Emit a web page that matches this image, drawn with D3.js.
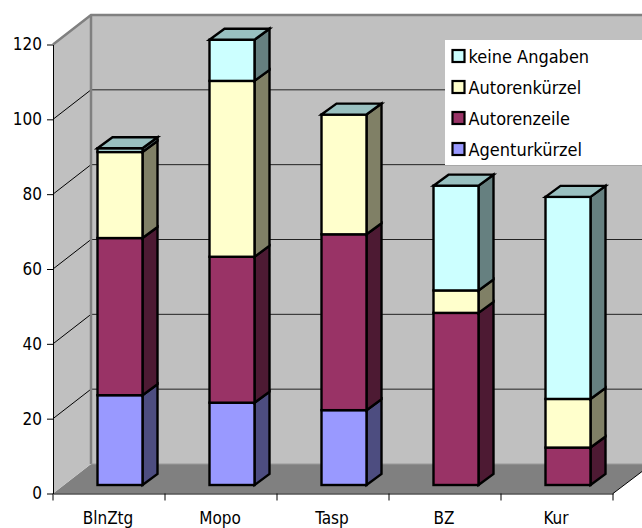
<!DOCTYPE html>
<html><head><meta charset="utf-8">
<script src="https://cdn.jsdelivr.net/npm/d3@7"></script>
<style>html,body{margin:0;padding:0;background:#fff}svg{display:block}
text{font-family:"DejaVu Sans Condensed","DejaVu Sans",sans-serif;font-stretch:condensed;fill:#000}</style></head>
<body><svg id="c" width="642" height="528"></svg>
<script>
const categories=["BlnZtg","Mopo","Tasp","BZ","Kur"];
const seriesNames=["Agenturkürzel","Autorenzeile","Autorenkürzel","keine Angaben"];
const agenturkuerzel=[24,22,20,0,0];
const autorenzeile=[42,39,47,46,10];
const autorenkuerzel=[23,47,32,6,13];
const keineAngaben=[1,11,0,28,54];
const yTicks=[0,20,40,60,80,100,120];
const seriesValues=[agenturkuerzel,autorenzeile,autorenkuerzel,keineAngaben];
const faceColors=["#9999ff","#993366","#ffffcc","#ccffff"];
const sideColors=["#4d4d80","#4d1a33","#808066","#668080"];
const topColor="#99c0c0";
const font='"DejaVu Sans Condensed","DejaVu Sans",sans-serif';

const svg=d3.select("#c");
const x=d3.scaleBand().domain(categories).range([53,613]);
const y=d3.scaleLinear().domain([0,120]).range([493.5,44.5]);
const wallDx=38,wallDy=-29.5,barDx=15,barDy=-11,barInset=44.5,barW=45,barLift=-8.5;
const pts=a=>a.map(p=>p.join(",")).join(" ");

const y0=y(0),yT=y(120);
svg.append("polygon").attr("points",pts([[53,y0],[53+wallDx,y0+wallDy],[642,y0+wallDy],[642,y0-22],[613,y0]])).attr("fill","#808080");
svg.append("rect").attr("x",53+wallDx).attr("y",yT+wallDy).attr("width",642-53-wallDx).attr("height",y0-yT).attr("fill","#c0c0c0");
svg.append("polygon").attr("points",pts([[53,y0],[53,yT],[53+wallDx,yT+wallDy],[53+wallDx,y0+wallDy]])).attr("fill","#c0c0c0");

yTicks.slice(1).forEach(t=>{
  if(t<120){
    svg.append("line").attr("x1",53).attr("y1",y(t)).attr("x2",53+wallDx).attr("y2",y(t)+wallDy).attr("stroke","#000");
    svg.append("line").attr("x1",53+wallDx).attr("y1",y(t)+wallDy).attr("x2",642).attr("y2",y(t)+wallDy).attr("stroke","#222");
  }
});
svg.append("polyline").attr("fill","none").attr("stroke","#808080").attr("stroke-width",2.5)
  .attr("points",pts([[53,yT],[53+wallDx,yT+wallDy],[642,yT+wallDy]]));
svg.append("line").attr("x1",53+wallDx).attr("x2",53+wallDx).attr("y1",yT+wallDy).attr("y2",y0+wallDy).attr("stroke","#808080").attr("stroke-width",2.5);
svg.append("line").attr("x1",53+wallDx).attr("x2",642).attr("y1",y0+wallDy).attr("y2",y0+wallDy).attr("stroke","#999");
svg.append("line").attr("x1",613).attr("x2",642).attr("y1",y0).attr("y2",y0-22).attr("stroke","#000");

const bars=svg.append("g").attr("stroke","#000").attr("stroke-width",2.4).attr("stroke-linejoin","miter");
categories.forEach((c,i)=>{
  let acc=0;
  const L=x(c)+barInset,R=L+barW;
  seriesValues.forEach((vals,s)=>{
    const v=vals[i]; if(!v) return;
    const yb=y(acc)+barLift, yt=y(acc+v)+barLift; acc+=v;
    bars.append("polygon").attr("fill",sideColors[s]).attr("points",pts([[R,yb],[R+barDx,yb+barDy],[R+barDx,yt+barDy],[R,yt]]));
    bars.append("rect").attr("fill",faceColors[s]).attr("x",L).attr("y",yt).attr("width",barW).attr("height",yb-yt);
  });
  const yt=y(acc)+barLift;
  bars.append("polygon").attr("fill",topColor).attr("points",pts([[L,yt],[L+barDx,yt+barDy],[R+barDx,yt+barDy],[R,yt]]));
});

const axY=d3.axisLeft(y).tickValues(yTicks).tickSize(6).tickPadding(5).tickSizeOuter(0);
const gy=svg.append("g").attr("transform","translate(53,0)").call(axY);
gy.selectAll("text").attr("font-size",17).style("font-family",font);
gy.selectAll("line,path").attr("stroke","#000");
const axX=d3.axisBottom(x).tickSize(0).tickPadding(0).tickSizeOuter(0);
const gx=svg.append("g").attr("transform",`translate(0,${y0})`).call(axX);
gx.selectAll(".tick line").remove();
gx.selectAll("text").attr("y",30).attr("dy",0).attr("font-size",17).attr("dx",-1).style("font-family",font);
gx.selectAll("path").attr("stroke","#000");
x.domain().concat(["_end"]).forEach((c,i)=>{
  const px=53+i*x.step();
  svg.append("line").attr("x1",px).attr("x2",px).attr("y1",y0).attr("y2",y0+7).attr("stroke","#000");
});

const lg=svg.append("g");
lg.append("rect").attr("x",445).attr("y",40).attr("width",197).attr("height",125).attr("fill","#fff");
const order=[3,2,1,0];
const ly=d3.scalePoint().domain(order).range([56,149]);
order.forEach(s=>{
  lg.append("rect").attr("x",452.5).attr("y",ly(s)-6).attr("width",12).attr("height",12).attr("fill",faceColors[s]).attr("stroke","#000").attr("stroke-width",2.2);
  lg.append("text").attr("x",468.5).attr("y",ly(s)+6.5).attr("font-size",18).text(seriesNames[s]);
});
</script></body></html>
